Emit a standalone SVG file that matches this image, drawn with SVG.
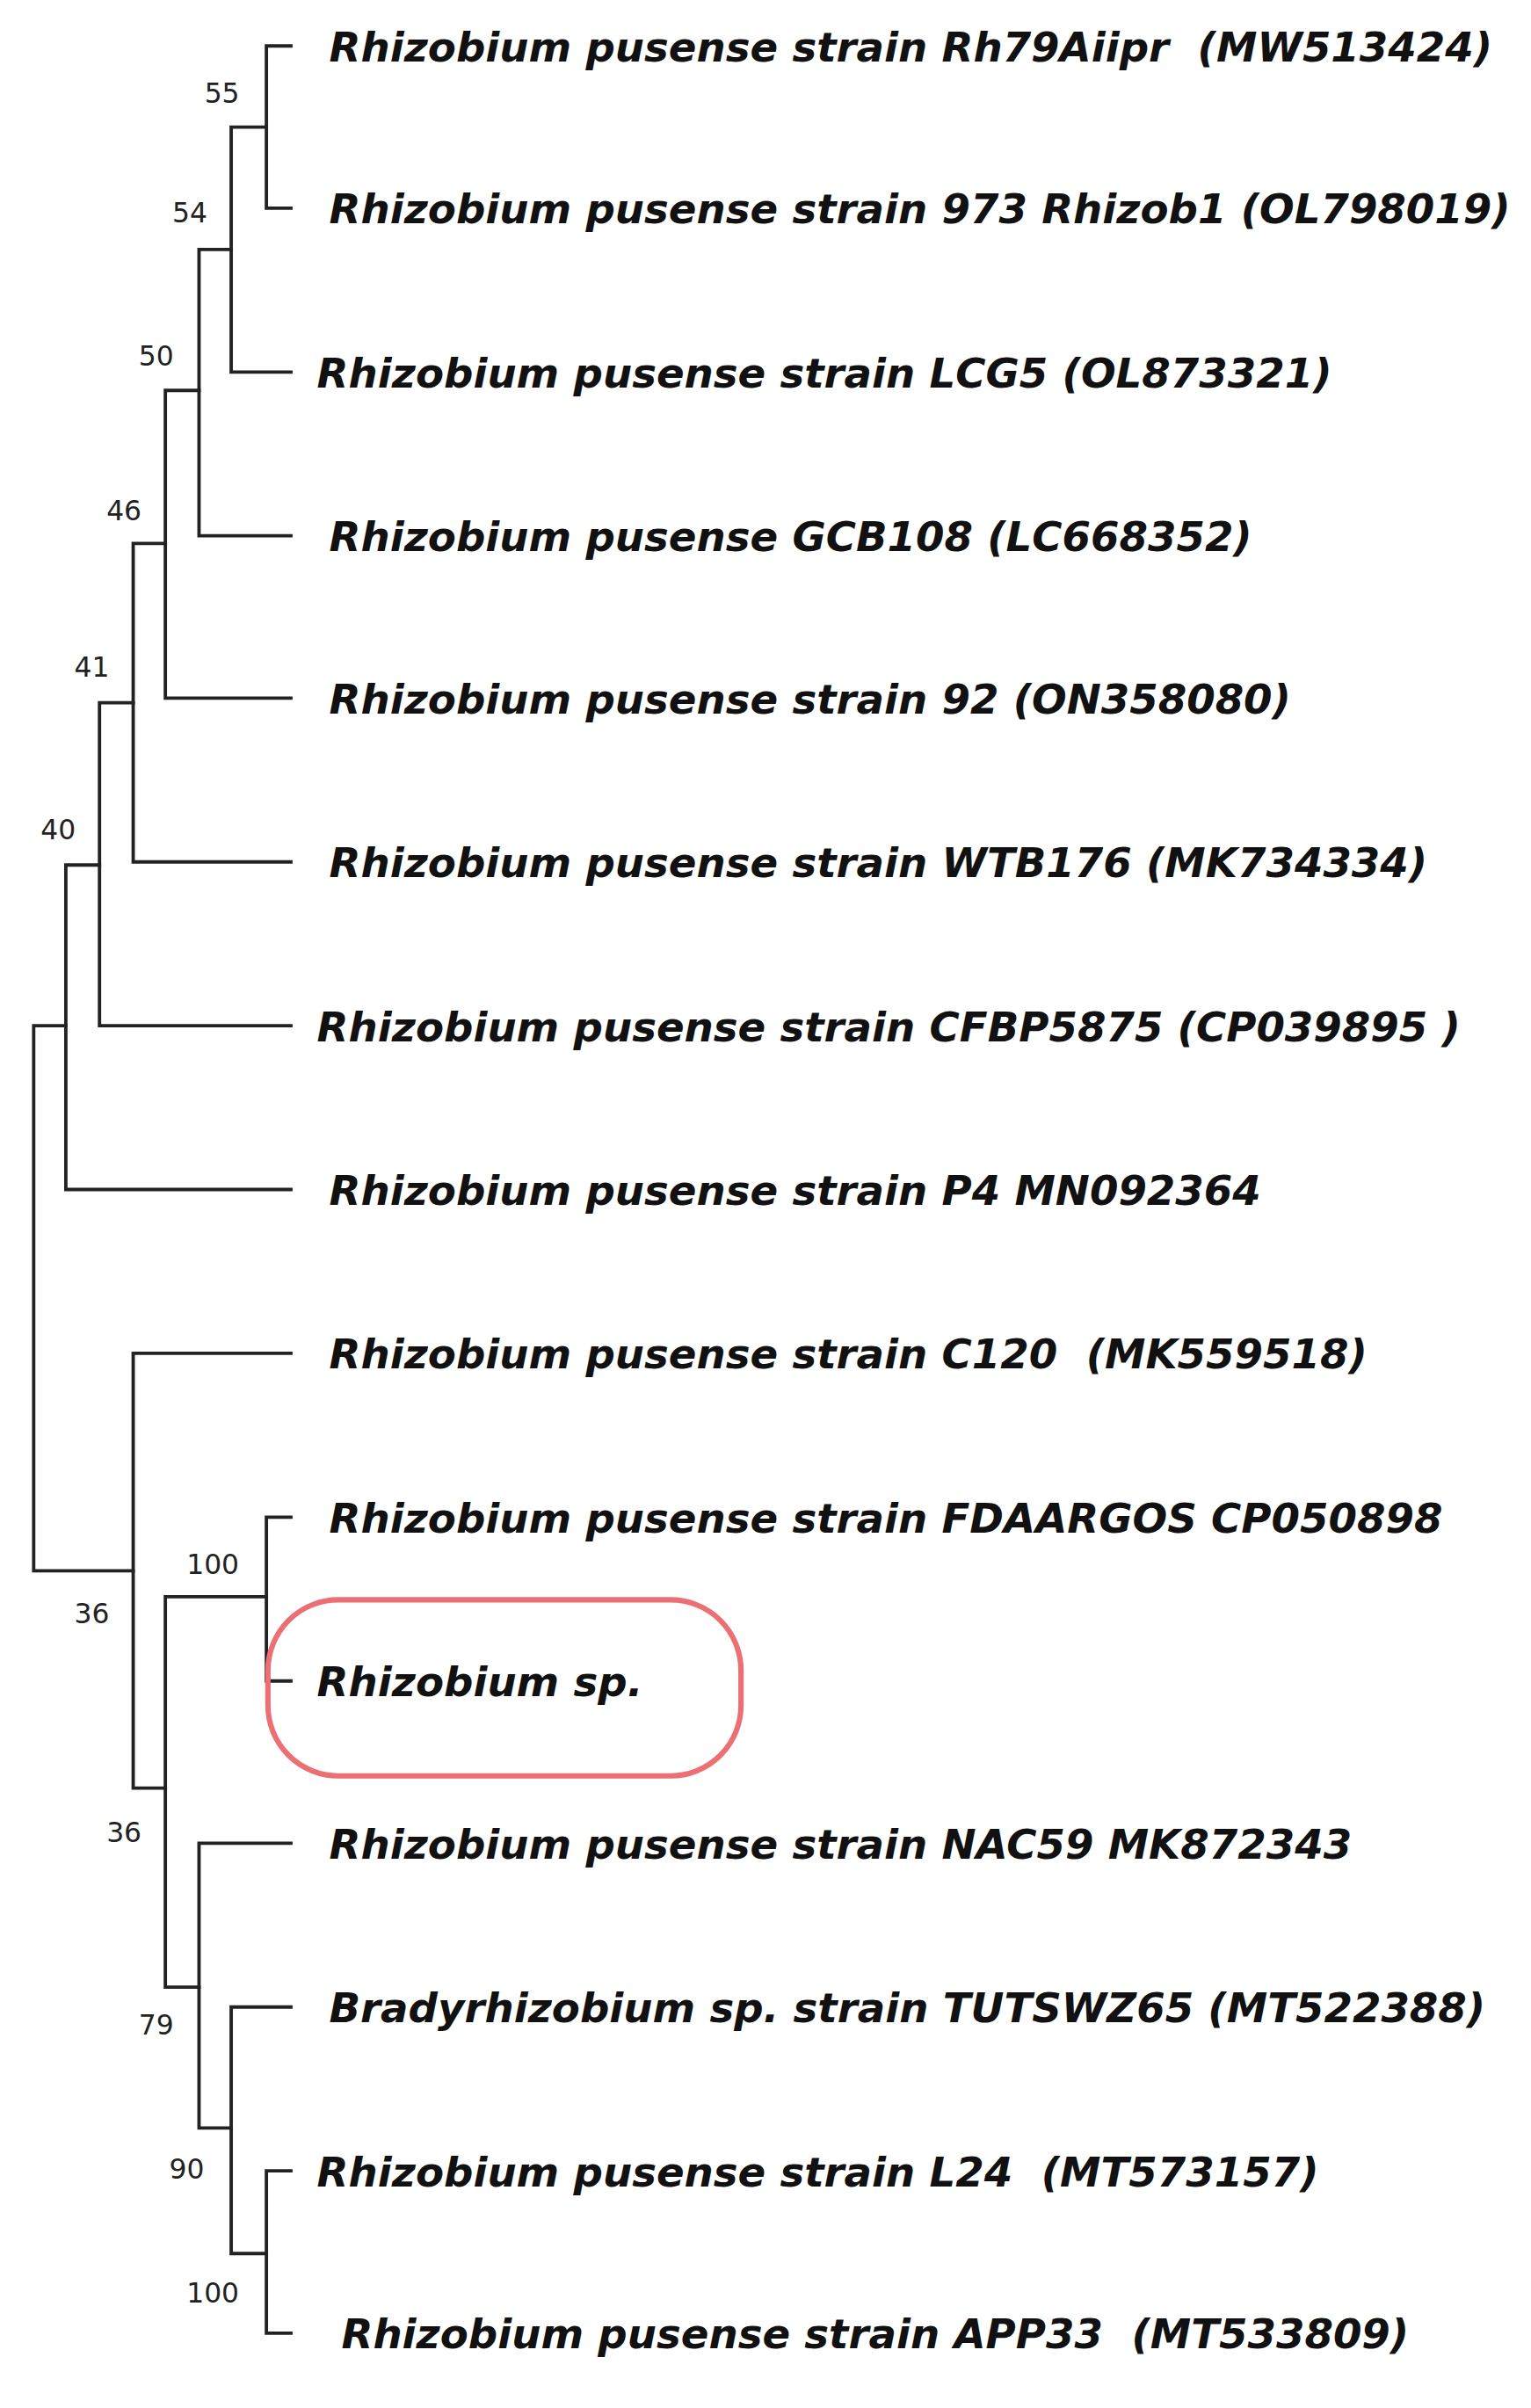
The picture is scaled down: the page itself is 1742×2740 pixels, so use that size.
<svg xmlns="http://www.w3.org/2000/svg" width="1742" height="2740" viewBox="0 0 1742 2740">
<style>
.e{fill:none;stroke:#222;stroke-width:2.2;stroke-linecap:square}
.t{font-family:"DejaVu Sans",Verdana,sans-serif;font-weight:bold;font-style:italic;font-size:26.8px;fill:#111;white-space:pre}
.b{font-family:"DejaVu Sans",Verdana,sans-serif;font-size:18px;fill:#222;text-anchor:middle}
</style>
<rect width="1742" height="2740" fill="#fff"/>
<g transform="scale(1.742)">
<g id="connectors" class="e">
<path d="M190,30H174V136H190"/>
<path d="M174,83H151V243H190"/>
<path d="M151,163H130V350H190"/>
<path d="M130,255H108V456H190"/>
<path d="M108,355H87V563H190"/>
<path d="M87,459H65V670H190"/>
<path d="M65,565H43V777H190"/>
<path d="M43,670H22V1026H87"/>
<path d="M190,884H87V1168H108"/>
<path d="M190,991H174V1098H190"/>
<path d="M174,1043H108V1298H130"/>
<path d="M190,1204H130V1390H151"/>
<path d="M190,1311H151V1472H174"/>
<path d="M190,1418H174V1524H190"/>
</g>
<g id="highlight"><rect x="175" y="1045" width="309" height="115" rx="46" fill="none" stroke="#ec6f74" stroke-width="3.5"/></g>
<g id="bootstrap">
<text class="b" x="145" y="67">55</text>
<text class="b" x="124" y="145">54</text>
<text class="b" x="102" y="239">50</text>
<text class="b" x="81" y="340">46</text>
<text class="b" x="60" y="442">41</text>
<text class="b" x="38" y="548">40</text>
<text class="b" x="60" y="1060">36</text>
<text class="b" x="139" y="1028">100</text>
<text class="b" x="81" y="1203">36</text>
<text class="b" x="102" y="1329">79</text>
<text class="b" x="122" y="1423">90</text>
<text class="b" x="139" y="1504">100</text>
</g>
<g id="n1"><text class="t" x="215" y="40" xml:space="preserve">Rhizobium pusense strain Rh79Aiipr  (MW513424)</text></g>
<g id="n2"><text class="t" x="215" y="146">Rhizobium pusense strain 973 Rhizob1 (OL798019)</text></g>
<g id="n3"><text class="t" x="207" y="253">Rhizobium pusense strain LCG5 (OL873321)</text></g>
<g id="n4"><text class="t" x="215" y="360">Rhizobium pusense GCB108 (LC668352)</text></g>
<g id="n5"><text class="t" x="215" y="466">Rhizobium pusense strain 92 (ON358080)</text></g>
<g id="n6"><text class="t" x="215" y="573">Rhizobium pusense strain WTB176 (MK734334)</text></g>
<g id="n7"><text class="t" x="207" y="680">Rhizobium pusense strain CFBP5875 (CP039895 )</text></g>
<g id="n8"><text class="t" x="215" y="787">Rhizobium pusense strain P4 MN092364</text></g>
<g id="n9"><text class="t" x="215" y="894" xml:space="preserve">Rhizobium pusense strain C120  (MK559518)</text></g>
<g id="n10"><text class="t" x="215" y="1001">Rhizobium pusense strain FDAARGOS CP050898</text></g>
<g id="n11"><text class="t" x="207" y="1108">Rhizobium sp.</text></g>
<g id="n12"><text class="t" x="215" y="1214">Rhizobium pusense strain NAC59 MK872343</text></g>
<g id="n13"><text class="t" x="215" y="1321">Bradyrhizobium sp. strain TUTSWZ65 (MT522388)</text></g>
<g id="n14"><text class="t" x="207" y="1428" xml:space="preserve">Rhizobium pusense strain L24  (MT573157)</text></g>
<g id="n15"><text class="t" x="223" y="1534" xml:space="preserve">Rhizobium pusense strain APP33  (MT533809)</text></g>
</g>
</svg>
